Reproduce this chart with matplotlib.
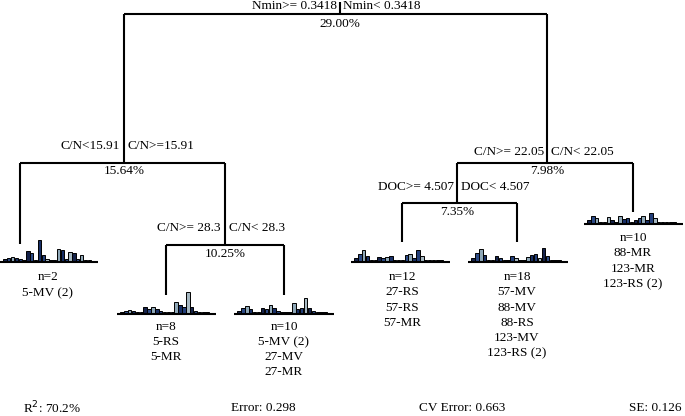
import matplotlib
matplotlib.use("Agg")
import matplotlib.pyplot as plt

plt.rcParams['font.family'] = ['Liberation Serif', 'DejaVu Serif']

# bar colours per species (24 bars per leaf)
bar_colors = (['#15224a', '#2c4a85', '#8fa8b8', '#182f66', '#233f7a', '#a6b8c2'] * 4)

leaf_left = [3, 4, 5, 4, 3, 2, 11, 9, 2, 22, 7, 3, 2, 2, 13, 12, 3, 10, 9, 3, 7, 2, 2, 1]
leaf_n8 = [2, 3, 4, 3, 2, 2, 7, 5, 7, 5, 3, 2, 2, 2, 12, 9, 7, 22, 7, 3, 2, 2, 2, 1]
leaf_n10 = [3, 6, 8, 5, 2, 2, 6, 5, 9, 6, 3, 2, 2, 2, 11, 5, 6, 16, 6, 3, 2, 2, 2, 1]
leaf_n12 = [4, 8, 12, 6, 2, 2, 5, 4, 5, 6, 2, 2, 2, 7, 8, 4, 12, 6, 2, 2, 2, 2, 2, 1]
leaf_n18 = [4, 9, 13, 7, 2, 2, 6, 4, 2, 2, 6, 4, 2, 2, 5, 7, 8, 4, 14, 6, 2, 2, 2, 1]
leaf_n10b = [4, 8, 6, 2, 2, 7, 4, 2, 8, 5, 6, 2, 4, 6, 8, 4, 11, 6, 2, 2, 2, 2, 2, 1]

fig = plt.figure(figsize=(6.85, 4.16), dpi=100)
ax = fig.add_axes([0, 0, 1, 1])
ax.set_xlim(0, 685)
ax.set_ylim(416, 0)
ax.axis('off')

lw = 1.5
def line(xs, ys):
    ax.plot(xs, ys, color='black', lw=lw, solid_capstyle='butt')

def txt(x, y, s, ha='center'):
    ax.text(x, y, s, ha=ha, va='center', fontsize=9.5)

def leaf(x0, x1, base, heights):
    w = (x1 - x0) / len(heights)
    xs = [x0 + w * (i + 0.5) for i in range(len(heights))]
    ax.bar(xs, [-h for h in heights], width=w * 0.9, bottom=base,
           color=bar_colors[:len(heights)], edgecolor='black', linewidth=0.7)
    line([x0 - 3, x1 + 3], [base, base])

# root split
line([340, 340], [2, 14])
line([124, 547], [14, 14])
txt(337, 6, 'Nmin>= 0.3418', ha='right')
txt(343, 6, 'Nmin< 0.3418', ha='left')
txt(340, 24, '29.00%')
line([124, 124], [14, 163])
line([547, 547], [14, 163])

# left split
line([20, 225], [163, 163])
txt(120, 146, 'C/N<15.91', ha='right')
txt(128, 146, 'C/N>=15.91', ha='left')
txt(124, 171, '15.64%')
line([20, 20], [163, 244])
line([225, 225], [163, 245])
leaf(3, 95, 262, leaf_left)
txt(48, 277, 'n=2')
txt(48, 293, '5-MV (2)')

line([166, 284], [245, 245])
txt(221, 228, 'C/N>= 28.3', ha='right')
txt(229, 228, 'C/N< 28.3', ha='left')
txt(225, 254, '10.25%')
line([166, 166], [245, 295])
line([284, 284], [245, 295])
leaf(120, 213, 314, leaf_n8)
leaf(237, 331, 314, leaf_n10)
for i, s in enumerate(['n=8', '5-RS', '5-MR']):
    txt(166, 327 + 15 * i, s)
for i, s in enumerate(['n=10', '5-MV (2)', '27-MV', '27-MR']):
    txt(284, 327 + 15 * i, s)

# right split
line([457, 633], [163, 163])
txt(544, 152, 'C/N>= 22.05', ha='right')
txt(551, 152, 'C/N< 22.05', ha='left')
txt(547, 171, '7.98%')
line([457, 457], [163, 203])
line([633, 633], [163, 212])
leaf(587, 680, 224, leaf_n10b)
for i, s in enumerate(['n=10', '88-MR', '123-MR', '123-RS (2)']):
    txt(633, 238 + 15.5 * i, s)

line([402, 517], [203, 203])
txt(454, 187, 'DOC>= 4.507', ha='right')
txt(461, 187, 'DOC< 4.507', ha='left')
txt(457, 212, '7.35%')
line([402, 402], [203, 242])
line([517, 517], [203, 242])
leaf(354, 447, 262, leaf_n12)
leaf(471, 565, 262, leaf_n18)
for i, s in enumerate(['n=12', '27-RS', '57-RS', '57-MR']):
    txt(402, 277 + 15.3 * i, s)
for i, s in enumerate(['n=18', '57-MV', '88-MV', '88-RS', '123-MV', '123-RS (2)']):
    txt(517, 277 + 15.3 * i, s)

# footer
txt(52, 408, 'R$^2$: 70.2%')
txt(263, 408, 'Error: 0.298')
txt(462, 408, 'CV Error: 0.663')
txt(655, 408, 'SE: 0.126')

fig.savefig('out.png', dpi=100)
